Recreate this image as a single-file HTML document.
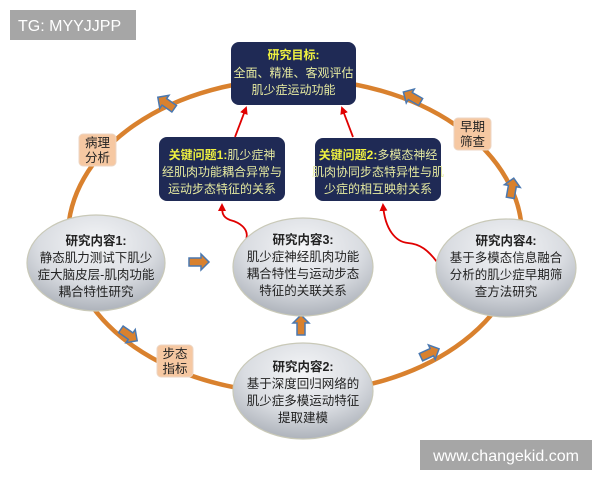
<!DOCTYPE html>
<html><head><meta charset="utf-8"><style>
html,body{margin:0;padding:0;background:#fff;}
svg{display:block;font-family:"Liberation Sans","Noto Sans CJK SC",sans-serif;}
</style></head><body>
<svg width="600" height="480" viewBox="0 0 600 480" xmlns="http://www.w3.org/2000/svg">
<defs>
<radialGradient id="eg" cx="50%" cy="30%" r="70%">
<stop offset="0" stop-color="#f4f5f7"/><stop offset="0.6" stop-color="#d9dce1"/><stop offset="1" stop-color="#aeb3bb"/>
</radialGradient>
<marker id="ra" markerWidth="8" markerHeight="8" refX="6" refY="4" orient="auto" markerUnits="userSpaceOnUse">
<path d="M0,0 L8,4 L0,8 Z" fill="#e00000"/></marker>
<g id="bar"><path d="M-10,-4 L2,-4 L2,-8 L10,0 L2,8 L2,4 L-10,4 Z" fill="#d9812e" stroke="#4a78b0" stroke-width="1.5"/></g>
</defs>
<rect width="600" height="480" fill="#fff"/>
<ellipse cx="295" cy="236" rx="227" ry="157" fill="none" stroke="#d9812e" stroke-width="4.5"/>
<use href="#bar" transform="translate(166,103) rotate(-145)"/>
<use href="#bar" transform="translate(412,97) rotate(-150)"/>
<use href="#bar" transform="translate(512,188) rotate(-80)"/>
<use href="#bar" transform="translate(129,335) rotate(35)"/>
<use href="#bar" transform="translate(430,353) rotate(-25)"/>
<use href="#bar" transform="translate(199,262)"/>
<use href="#bar" transform="translate(301,325) rotate(-90)"/>
<g font-size="12.5" fill="#222" text-anchor="middle">
<rect x="79" y="134" width="37" height="32" rx="4" fill="#f6c8a2" stroke="#ecd6c4"/>
<text x="97.5" y="147">病理</text><text x="97.5" y="162">分析</text>
<rect x="454" y="118" width="37" height="32" rx="4" fill="#f6c8a2" stroke="#ecd6c4"/>
<text x="472.5" y="131">早期</text><text x="472.5" y="146">筛查</text>
<rect x="157" y="345" width="36" height="32" rx="4" fill="#f6c8a2" stroke="#ecd6c4"/>
<text x="175" y="358">步态</text><text x="175" y="373">指标</text>
</g>
<g font-size="12" text-anchor="middle">
<rect x="231" y="42" width="125" height="63" rx="8" fill="#1f2a55"/>
<text x="293.5" y="59" fill="#eef040" font-weight="bold">研究目标:</text>
<text x="293.5" y="77" fill="#e6eaa0">全面、精准、客观评估</text>
<text x="293.5" y="94" fill="#e6eaa0">肌少症运动功能</text>
<rect x="159" y="137" width="126" height="64" rx="8" fill="#1f2a55"/>
<text x="222" y="159" fill="#e6eaa0"><tspan fill="#eef040" font-weight="bold">关键问题1:</tspan>肌少症神</text>
<text x="222" y="176" fill="#e6eaa0">经肌肉功能耦合异常与</text>
<text x="222" y="193" fill="#e6eaa0">运动步态特征的关系</text>
<rect x="315" y="138" width="126" height="63" rx="8" fill="#1f2a55"/>
<text x="378" y="159" fill="#e6eaa0"><tspan fill="#eef040" font-weight="bold">关键问题2:</tspan>多模态神经</text>
<text x="378" y="176" fill="#e6eaa0">肌肉协同步态特异性与肌</text>
<text x="378" y="193" fill="#e6eaa0">少症的相互映射关系</text>
</g>
<g fill="none" stroke="#e00000" stroke-width="1.8">
<path d="M235,137 L246,108" marker-end="url(#ra)"/>
<path d="M353,137 L342,108" marker-end="url(#ra)"/>
<path d="M246,240 C250,228 238,222 230,220 C222,217 222,212 222,205" marker-end="url(#ra)"/>
<path d="M437,262 C428,250 420,244 408,243 C396,242 385,230 383,205" marker-end="url(#ra)"/>
</g>
<g stroke="#c9c9b8" stroke-width="1.2" fill="url(#eg)">
<ellipse cx="96" cy="263" rx="69" ry="48"/>
<ellipse cx="303" cy="267" rx="70" ry="49"/>
<ellipse cx="506" cy="268" rx="70" ry="49"/>
<ellipse cx="303" cy="391" rx="70" ry="48"/>
</g>
<g font-size="12.5" fill="#222" text-anchor="middle">
<text x="96" y="245" font-weight="bold">研究内容1:</text>
<text x="96" y="262">静态肌力测试下肌少</text>
<text x="96" y="279">症大脑皮层-肌肉功能</text>
<text x="96" y="296">耦合特性研究</text>
<text x="303" y="244" font-weight="bold">研究内容3:</text>
<text x="303" y="261">肌少症神经肌肉功能</text>
<text x="303" y="278">耦合特性与运动步态</text>
<text x="303" y="295">特征的关联关系</text>
<text x="506" y="245" font-weight="bold">研究内容4:</text>
<text x="506" y="262">基于多模态信息融合</text>
<text x="506" y="279">分析的肌少症早期筛</text>
<text x="506" y="296">查方法研究</text>
<text x="303" y="371" font-weight="bold">研究内容2:</text>
<text x="303" y="388">基于深度回归网络的</text>
<text x="303" y="405">肌少症多模运动特征</text>
<text x="303" y="422">提取建模</text>
</g>
<rect x="10" y="10" width="126" height="30" fill="#a6a6a6"/>
<text x="18" y="31" font-size="16" fill="#fff">TG: MYYJJPP</text>
<rect x="420" y="440" width="172" height="30" fill="#a6a6a6"/>
<text x="506" y="461" font-size="16" fill="#fff" text-anchor="middle">www.changekid.com</text>
</svg>
</body></html>
